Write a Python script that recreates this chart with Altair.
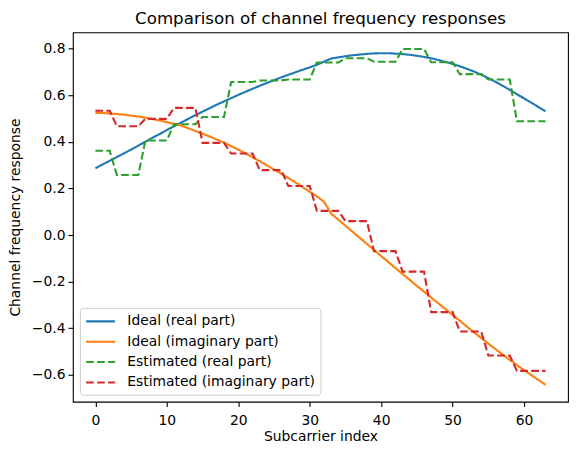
import altair as alt
import pandas as pd

subcarrier = list(range(64))

ideal_real = [
    0.287, 0.303, 0.319, 0.335, 0.351, 0.367, 0.384, 0.401, 0.418, 0.434,
    0.451, 0.467, 0.483, 0.499, 0.515, 0.530, 0.545, 0.560, 0.574, 0.588,
    0.602, 0.615, 0.628, 0.641, 0.653, 0.665, 0.677, 0.688, 0.699, 0.710,
    0.720, 0.731, 0.745, 0.758, 0.763, 0.768, 0.772, 0.775, 0.778, 0.780,
    0.781, 0.781, 0.779, 0.777, 0.774, 0.770, 0.765, 0.759, 0.752, 0.744,
    0.735, 0.725, 0.714, 0.702, 0.689, 0.674, 0.658, 0.641, 0.623, 0.605,
    0.587, 0.569, 0.550, 0.531,
]

ideal_imag = [
    0.525, 0.524, 0.522, 0.520, 0.517, 0.513, 0.509, 0.504, 0.498, 0.492,
    0.485, 0.478, 0.470, 0.459, 0.447, 0.435, 0.423, 0.410, 0.397, 0.382,
    0.367, 0.351, 0.334, 0.317, 0.299, 0.282, 0.264, 0.245, 0.226, 0.206,
    0.186, 0.166, 0.143, 0.092, 0.066, 0.040, 0.014, -0.012, -0.038, -0.064,
    -0.090, -0.116, -0.142, -0.167, -0.193, -0.218, -0.243, -0.268, -0.293, -0.318,
    -0.343, -0.368, -0.393, -0.418, -0.442, -0.466, -0.490, -0.513, -0.536, -0.558,
    -0.580, -0.601, -0.622, -0.643,
]

est_real = [
    0.362, 0.362, 0.362,
    0.258, 0.258, 0.258, 0.258,
    0.406, 0.406, 0.406, 0.406,
    0.476, 0.476, 0.476, 0.476,
    0.507, 0.507, 0.507, 0.507,
    0.657, 0.657, 0.657, 0.657,
    0.664, 0.664, 0.664, 0.664,
    0.668, 0.668, 0.668, 0.668,
    0.741, 0.741, 0.741, 0.741,
    0.759, 0.759, 0.759, 0.759,
    0.744, 0.744, 0.744, 0.744,
    0.799, 0.799, 0.799, 0.799,
    0.742, 0.742, 0.742, 0.742,
    0.691, 0.691, 0.691, 0.691,
    0.668, 0.668, 0.668, 0.668,
    0.489, 0.489, 0.489, 0.489, 0.489,
]

est_imag = [
    0.534, 0.534, 0.534,
    0.467, 0.467, 0.467, 0.467,
    0.499, 0.499, 0.499, 0.499,
    0.546, 0.546, 0.546, 0.546,
    0.396, 0.396, 0.396, 0.396,
    0.350, 0.350, 0.350, 0.350,
    0.279, 0.279, 0.279, 0.279,
    0.211, 0.211, 0.211, 0.211,
    0.104, 0.104, 0.104, 0.104,
    0.060, 0.060, 0.060, 0.060,
    -0.069, -0.069, -0.069, -0.069,
    -0.157, -0.157, -0.157, -0.157,
    -0.331, -0.331, -0.331, -0.331,
    -0.414, -0.414, -0.414, -0.414,
    -0.517, -0.517, -0.517, -0.517,
    -0.583, -0.583, -0.583, -0.583, -0.583,
]

series_names = [
    "Ideal (real part)",
    "Ideal (imaginary part)",
    "Estimated (real part)",
    "Estimated (imaginary part)",
]
series_values = [ideal_real, ideal_imag, est_real, est_imag]
colors = ["#1f77b4", "#ff7f0e", "#2ca02c", "#d62728"]
dashes = [[1, 0], [1, 0], [7.7, 3.3], [7.7, 3.3]]

rows = []
for name, vals in zip(series_names, series_values):
    for i, v in zip(subcarrier, vals):
        rows.append({"idx": i, "value": v, "series": name})
df = pd.DataFrame(rows)

FONT = "DejaVu Sans"

x_enc = alt.X(
    "idx:Q",
    title="Subcarrier index",
    scale=alt.Scale(domain=[-3.15, 66.15], nice=False, zero=False),
    axis=alt.Axis(values=[0, 10, 20, 30, 40, 50, 60], format="d",
                  labelPadding=7, titlePadding=2),
)
y_enc = alt.Y(
    "value:Q",
    title="Channel frequency response",
    scale=alt.Scale(domain=[-0.7155, 0.8705], nice=False, zero=False),
    axis=alt.Axis(values=[-0.6, -0.4, -0.2, 0.0, 0.2, 0.4, 0.6, 0.8], format=".1f",
                  labelPadding=3, titlePadding=9),
)
color_enc = alt.Color(
    "series:N",
    title=None,
    scale=alt.Scale(domain=series_names, range=colors),
    legend=alt.Legend(
        orient="bottom-left",
        offset=7,
        symbolType="M-1,0H3",
        symbolSize=210,
        symbolStrokeWidth=2.1,
        symbolFillColor="transparent",
        labelFontSize=13.9,
        labelFont=FONT,
        labelColor="black",
        labelOffset=25.5,
        rowPadding=4.4,
        padding=5,
        strokeColor="#cccccc",
        fillColor="rgba(255,255,255,0.8)",
        cornerRadius=3,
        labelLimit=400,
    ),
)
dash_enc = alt.StrokeDash(
    "series:N",
    title=None,
    scale=alt.Scale(domain=series_names, range=dashes),
)

layers = []
for name in series_names:
    layers.append(
        alt.Chart(df)
        .transform_filter(alt.datum.series == name)
        .mark_line(strokeWidth=2.1, clip=True)
        .encode(x=x_enc, y=y_enc, color=color_enc, strokeDash=dash_enc)
    )

chart = (
    alt.layer(*layers)
    .properties(
        width=496,
        height=370,
        autosize="none",
        padding={"left": 65, "top": 24, "right": 2, "bottom": 45},
        title=alt.TitleParams(
            "Comparison of channel frequency responses",
            font=FONT,
            fontSize=16.7,
            fontWeight="normal",
            color="black",
            anchor="middle",
            offset=5,
        ),
    )
    .configure_view(stroke="black", strokeWidth=1.1)
    .configure_axis(
        grid=False,
        domain=False,
        tickColor="black",
        tickSize=4.9,
        tickWidth=1.1,
        labelFont=FONT,
        labelFontSize=13.9,
        labelColor="black",
        titleFont=FONT,
        titleFontSize=13.9,
        titleFontWeight="normal",
        titleColor="black",
    )
)

chart.save("out.html", embed_options={"renderer": "svg", "actions": False})
